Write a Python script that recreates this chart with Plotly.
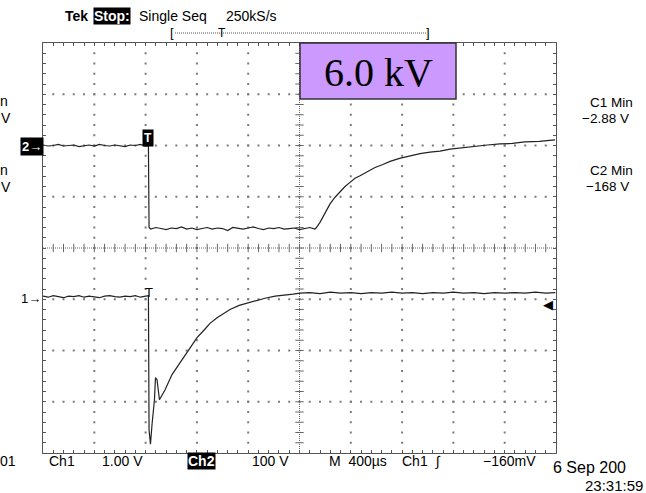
import plotly.graph_objects as go

# ---------------- data (read from the scope screen) ----------------
# time axis: microseconds relative to screen centre (400 us/div)
ch1_t = [-2000, -1960, -1920, -1880, -1840, -1800, -1760, -1720, -1680, -1640, -1600,
         -1560, -1520, -1480, -1440, -1400, -1360, -1320, -1280, -1240, -1200, -1178,
         -1173, -1162, -1150, -1131, -1123, -1111, -1092, -1049, -994, -916, -860, -799,
         -740, -698, -643, -590, -542, -470, -402, -330, -269, -190, -113, -50, 4,
         80, 160, 240, 320, 400, 480, 560, 640, 720, 800, 880, 960, 1040, 1120, 1200,
         1280, 1360, 1440, 1520, 1600, 1680, 1760, 1840, 1920, 1995]
ch1_v = [0.01, -0.01, 0.02, 0.0, -0.02, 0.01, 0.0, 0.02, -0.01, 0.01, 0.0,
         -0.02, 0.01, 0.02, 0.0, -0.01, 0.01, 0.0, 0.02, -0.01, 0.01, 0.02,
         -2.60, -2.88, -2.50, -2.01, -1.58, -1.62, -2.01, -1.82, -1.52, -1.23, -1.03, -0.80,
         -0.64, -0.52, -0.41, -0.32, -0.25, -0.17, -0.12, -0.07, -0.03, 0.01, 0.04, 0.05, 0.07,
         0.08, 0.06, 0.09, 0.07, 0.08, 0.06, 0.08, 0.07, 0.09, 0.07, 0.08, 0.06, 0.08, 0.07, 0.09,
         0.07, 0.08, 0.06, 0.08, 0.07, 0.08, 0.07, 0.09, 0.07, 0.08]

ch2_t = [-2000, -1960, -1920, -1880, -1840, -1800, -1760, -1720, -1680, -1640, -1600,
         -1560, -1520, -1480, -1440, -1400, -1360, -1320, -1280, -1240, -1200, -1178,
         -1173, -1160, -1120, -1080, -1040, -1000, -960, -920, -880, -840, -800, -760,
         -720, -680, -640, -600, -560, -520, -480, -440, -400, -360, -320, -280, -240,
         -200, -160, -120, -80, -40, 0, 40, 80, 120,
         129, 160, 199, 238, 277, 316, 355, 394, 433, 472, 530, 589, 650, 706, 780, 862,
         940, 1018, 1096, 1174, 1270, 1369, 1466, 1563, 1660, 1758, 1870, 1992]
ch2_v = [1, -1, 0, 2, -1, 0, 1, -2, 0, 1, -1,
         2, 0, -1, 1, 0, -2, 1, 0, 2, -1, 0,
         -160, -163, -160, -162, -164, -161, -162, -159, -163, -161, -164, -162,
         -160, -163, -161, -162, -166, -160, -162, -163, -161, -159, -162, -164,
         -161, -162, -160, -163, -162, -161, -164, -162, -160, -163,
         -161, -150, -131, -114, -101, -90, -80, -72, -64, -59, -51, -43, -37, -31, -25, -20,
         -16, -13, -11, -7, -4, -2, 1, 3, 4, 7, 8, 11]

ch1_volts_per_div = 1.0
ch2_volts_per_div = 100.0
ch1_ref_div = -0.95
ch2_ref_div = 2.0
trigger_level_v = -0.16

# ---------------- layout geometry ----------------
W, H = 646, 493
L, R, T, B = 43, 556, 43, 453


def px(x):
    return (x - L) / (R - L)


def py(y):
    return (B - y) / (B - T)


SANS = "Liberation Sans"
SERIF = "Liberation Serif"

fig = go.Figure()

# graticule dots (every 0.2 div on each division line)
gx, gy = [], []
for i in [-4, -3, -2, -1, 1, 2, 3, 4]:
    for m in range(-19, 20):
        gx.append(i * 400)
        gy.append(m * 0.2)
for j in [-3, -2, -1, 1, 2, 3]:
    for k in range(-24, 25):
        gx.append(k * 80)
        gy.append(j)
fig.add_trace(go.Scatter(x=gx, y=gy, mode="markers", hoverinfo="skip",
                         marker=dict(symbol="square", size=2, color="#7a7a7a", line=dict(width=0)),
                         showlegend=False))

# centre-line tick marks
cx = [k * 80 for k in range(-24, 25)]
fig.add_trace(go.Scatter(x=cx, y=[0] * len(cx), mode="markers", hoverinfo="skip",
                         marker=dict(symbol="line-ns", size=6, line=dict(width=1, color="#666")),
                         showlegend=False))
cy = [m * 0.2 for m in range(-19, 20)]
fig.add_trace(go.Scatter(x=[0] * len(cy), y=cy, mode="markers", hoverinfo="skip",
                         marker=dict(symbol="line-ew", size=6, line=dict(width=1, color="#666")),
                         showlegend=False))

# traces
fig.add_trace(go.Scatter(x=ch2_t, y=[v / ch2_volts_per_div + ch2_ref_div for v in ch2_v],
                         mode="lines", line=dict(color="#222", width=1.2), showlegend=False))
fig.add_trace(go.Scatter(x=ch1_t, y=[v / ch1_volts_per_div + ch1_ref_div for v in ch1_v],
                         mode="lines", line=dict(color="#222", width=1.2), showlegend=False))

shapes = [
    dict(type="line", xref="x", yref="y", x0=0, x1=0, y0=-4, y1=4,
         line=dict(color="#666", width=1, dash="1px,1px")),
    dict(type="line", xref="x", yref="y", x0=-2000, x1=2000, y0=0, y1=0,
         line=dict(color="#666", width=1, dash="1px,1px")),
    # purple label box
    dict(type="rect", xref="paper", yref="paper", x0=px(300), x1=px(456), y0=py(99), y1=py(43),
         fillcolor="#CC99FF", line=dict(color="#333", width=1.5)),
    # record-length bracket line
    dict(type="line", xref="paper", yref="paper", x0=px(175), x1=px(426), y0=py(33), y1=py(33),
         line=dict(color="#555", width=1, dash="1px,1px")),
]

anns = []


def ann(text, x, y, size=13, color="black", bg=None, family=SANS, xanchor="left",
        yref_data=False, pad=0):
    d = dict(text=text, x=px(x), xref="paper", showarrow=False, xanchor=xanchor, yanchor="middle",
             font=dict(family=family, size=size, color=color))
    if yref_data:
        d.update(y=y, yref="y")
    else:
        d.update(y=py(y), yref="paper")
    if bg:
        d.update(bgcolor=bg, borderpad=pad)
    anns.append(d)


# header
ann("<b>Tek</b>", 63, 16, size=14)
ann("<b>Stop:</b>", 93, 16, size=14, color="white", bg="black")
ann("Single Seq", 137, 16, size=14)
ann("250kS/s", 224, 16, size=14)
ann("[", 172, 33, size=13, xanchor="center")
ann("]", 428, 33, size=13, xanchor="center")
ann("T", 222, 33, size=12, xanchor="center")

# big label
ann("6.0 kV", 378, 73, size=40, family=SERIF, xanchor="center")

# right-hand measurements
ann("C1 Min", 588, 102, size=13.5)
ann("\u22122.88 V", 580, 118, size=13.5)
ann("C2 Min", 588, 170, size=13.5)
ann("\u2212168 V", 584, 186, size=13.5)

# left-edge cut-off readouts
ann("n", -2, 101, size=14)
ann("V", -1, 118, size=14)
ann("n", -2, 170, size=14)
ann("V", -1, 187, size=14)
ann("01", -2, 461, size=14)

# channel markers
ann("<b>2\u2192</b>", 32, 146, size=13, color="white", bg="black", xanchor="center", pad=1)
ann("1\u2192", 31, 298, size=13, xanchor="center")
ann("<b>T</b>", 148, 138, size=12, color="white", bg="black", xanchor="center", pad=1)
ann("T", 149, 292, size=13, xanchor="center")
ann("\u25c0", 548, trigger_level_v / ch1_volts_per_div + ch1_ref_div, size=13,
    xanchor="center", yref_data=True)

# bottom status line
ann("Ch1", 47, 461, size=14)
ann("1.00 V", 100, 461, size=14)
ann("<b>Ch2</b>", 187, 461, size=14, color="white", bg="black")
ann("100 V", 250, 461, size=14)
ann("M  400\u00b5s", 327, 461, size=14)
ann("Ch1", 400, 461, size=14)
ann("\u222b", 433, 461, size=14)
ann("\u2212160mV", 481, 461, size=14)
ann("6 Sep 200", 551, 467, size=16)
ann("23:31:59", 583, 485, size=15)

fig.update_layout(
    width=W, height=H,
    margin=dict(l=L, r=W - R, t=T, b=H - B, pad=0),
    paper_bgcolor="white", plot_bgcolor="white",
    shapes=shapes, annotations=anns,
    xaxis=dict(range=[-2000, 2000], showgrid=False, zeroline=False, showticklabels=False,
               showline=True, linecolor="#555", linewidth=1, mirror="ticks",
               ticks="inside", dtick=80, tick0=0, ticklen=3, tickcolor="#555", fixedrange=True),
    yaxis=dict(range=[-4, 4], showgrid=False, zeroline=False, showticklabels=False,
               showline=True, linecolor="#555", linewidth=1, mirror="ticks",
               ticks="inside", dtick=0.2, tick0=0, ticklen=3, tickcolor="#555", fixedrange=True),
)

fig.write_html("out.html", config={"displayModeBar": False})
